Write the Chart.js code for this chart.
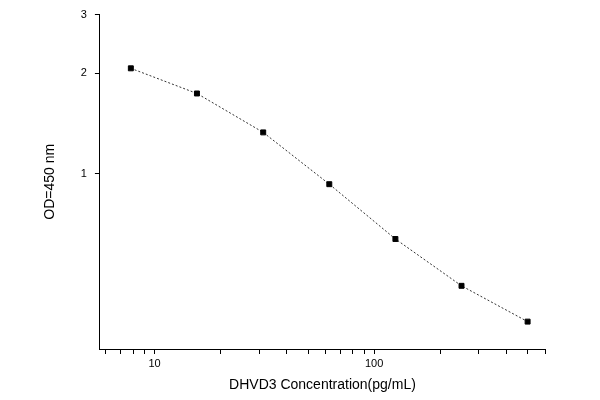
<!DOCTYPE html>
<html>
<head>
<script src="https://cdn.jsdelivr.net/npm/chart.js@4"></script>
<style>
  body { margin: 0; background: #fff; }
  #wrap { width: 600px; height: 400px; }
</style>
</head>
<body>
<div id="wrap"><canvas id="c"></canvas></div>
<script>
// concentration (pg/mL) and OD readings
const concentrations = [7.8, 15.6, 31.25, 62.5, 125, 250, 500];
const odValues = [2.07, 1.74, 1.33, 0.93, 0.637, 0.461, 0.36];
const xTicks = [6, 7, 8, 9, 10, 20, 30, 40, 50, 60, 70, 80, 90, 100, 200, 300, 400, 500, 600];
const xLabels = [10, 100];
const yTicks = [1, 2, 3];

const points = concentrations.map((x, i) => ({ x: x, y: odValues[i] }));

new Chart(document.getElementById('c'), {
    type: 'line',
    data: {
        datasets: [{
            data: points,
            borderColor: '#333',
            borderWidth: 1,
            borderDash: [2, 2],
            pointStyle: 'rect',
            pointRadius: 3.5,
            pointBackgroundColor: '#000',
            pointBorderColor: '#000',
            fill: false,
            tension: 0
        }]
    },
    options: {
        responsive: true,
        maintainAspectRatio: false,
        animation: false,
        layout: { padding: { top: 6, right: 55, left: 38, bottom: 2 } },
        plugins: { legend: { display: false }, tooltip: { enabled: false } },
        scales: {
            x: {
                type: 'logarithmic',
                min: 5.64,
                max: 600,
                afterBuildTicks: axis => { axis.ticks = xTicks.map(v => ({ value: v })); },
                ticks: {
                    autoSkip: false,
                    maxRotation: 0,
                    color: '#000',
                    font: { family: 'Liberation Sans', size: 11 },
                    callback: v => xLabels.includes(v) ? String(v) : ''
                },
                grid: { drawOnChartArea: false, color: '#000', tickLength: 5 },
                border: { color: '#000' },
                title: {
                    display: true,
                    text: 'DHVD3 Concentration(pg/mL)',
                    color: '#000',
                    font: { family: 'Liberation Sans', size: 14 }
                }
            },
            y: {
                type: 'logarithmic',
                min: 0.298,
                max: 3,
                afterBuildTicks: axis => { axis.ticks = yTicks.map(v => ({ value: v })); },
                ticks: {
                    autoSkip: false,
                    color: '#000',
                    font: { family: 'Liberation Sans', size: 11 },
                    padding: 8,
                    callback: v => String(v)
                },
                grid: { drawOnChartArea: false, color: '#000', tickLength: 5 },
                border: { color: '#000' },
                title: {
                    display: true,
                    text: 'OD=450 nm',
                    color: '#000',
                    padding: { top: 4, bottom: 14 },
                    font: { family: 'Liberation Sans', size: 14 }
                }
            }
        }
    }
});
</script>
</body>
</html>
